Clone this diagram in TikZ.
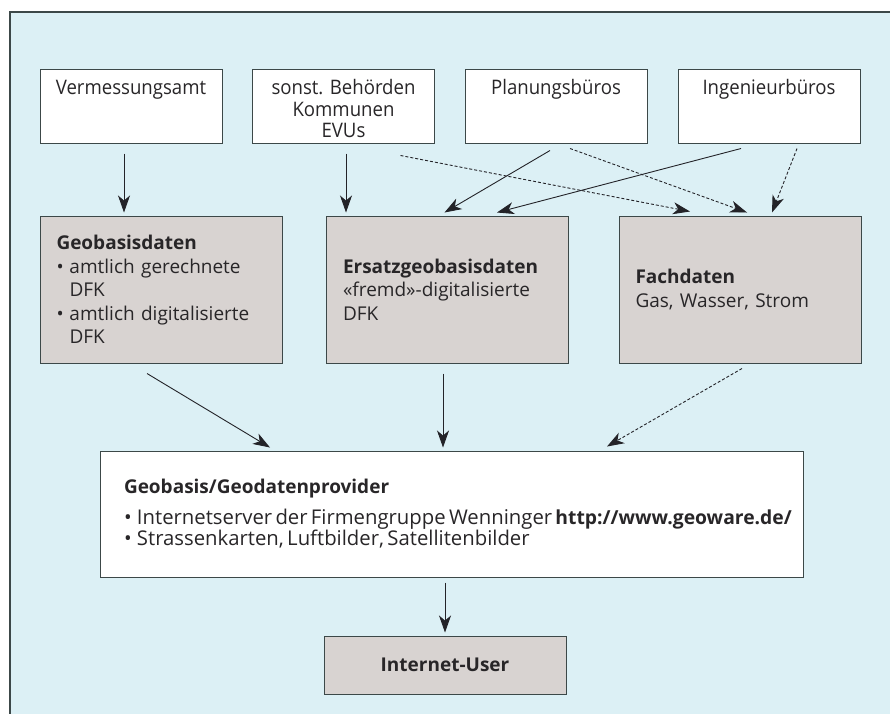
\documentclass[tikz,border=0pt]{standalone}
\usepackage{fontspec}
\setmainfont{Open Sans}
\newfontfamily\condfont[FakeStretch=0.93]{Open Sans}
\usetikzlibrary{arrows.meta,calc}
\definecolor{bgc}{RGB}{220,240,245}
\definecolor{grayc}{RGB}{216,211,209}
\definecolor{bordc}{RGB}{60,72,72}
\definecolor{txtc}{RGB}{40,38,40}
\definecolor{arrc}{RGB}{35,35,40}
\newcommand{\bul}{\makebox[13pt][l]{•}}
\newcommand{\bulind}{\hspace*{13pt}}
\newcommand{\topstrut}{\rule{0pt}{21pt}}
\begin{document}
\begin{tikzpicture}[x=1pt,y=-1pt,
  topbox/.style={draw=bordc, line width=1pt, fill=white, minimum width=182pt, minimum height=74pt,
    align=center, font=\condfont\fontsize{20}{21.5}\selectfont, text=txtc, inner sep=0pt},
  midbox/.style={draw=bordc, line width=1pt, fill=grayc, minimum height=147pt, text width=209pt,
    inner xsep=16.5pt, inner ysep=0pt, align=left, font=\fontsize{19}{23.5}\selectfont, text=txtc},
  provbox/.style={draw=bordc, line width=1pt, fill=white, minimum height=126pt, text width=655pt,
    inner xsep=24pt, inner ysep=0pt, align=left, text=txtc},
  userbox/.style={draw=bordc, line width=1pt, fill=grayc, minimum width=242pt, minimum height=58pt,
    inner sep=0pt, font=\bfseries\fontsize{19}{24}\selectfont, text=txtc},
  arr/.style={-{Stealth[length=17pt,width=12pt,inset=5pt]}, line width=0.9pt, draw=arrc},
  darr/.style={arr, dash pattern=on 3pt off 2pt}
]
\useasboundingbox (0,0) rectangle (890,713);
\fill[white] (0,0) rectangle (890,713);
\fill[bgc] (10,12) rectangle (895,720);
\draw[bordc, line width=1.2pt] (10,720) -- (10,12) -- (895,12);

% top row
\node[topbox] (v) at (131,106) {\topstrut Vermessungsamt\\\phantom{K}\\\phantom{EVUs}};
\node[topbox] (s) at (343.5,106) {\topstrut sonst. Behörden\\Kommunen\\EVUs};
\node[topbox] (p) at (556,106) {\topstrut Planungsbüros\\\phantom{K}\\\phantom{EVUs}};
\node[topbox] (i) at (769,106) {\topstrut Ingenieurbüros\\\phantom{K}\\\phantom{EVUs}};

% middle row
\node[midbox] (geo) at (161,289.5) {\textbf{Geobasisdaten}\\\bul amtlich gerechnete\\\bulind DFK\\\bul amtlich digitalisierte\\\bulind DFK};
\node[midbox] (ers) at (447.5,289.5) {\textbf{Ersatzgeobasisdaten}\\«fremd»-digitalisierte\\DFK};
\node[midbox] (fach) at (740,289.5) {\textbf{Fachdaten}\\Gas, Wasser, Strom};

% provider
\node[provbox] (prov) at (451.5,514) {{\bfseries\fontsize{19}{23}\selectfont Geobasis/Geodatenprovider}\\[8pt]
  {\fontsize{20.3}{22.5}\selectfont \bul Internetserver der Firmengruppe Wenninger {\bfseries\fontsize{19.3}{22.5}\selectfont http://www.geoware.de/}\\\bul Strassenkarten, Luftbilder, Satellitenbilder}};

% user
\node[userbox] (user) at (445,665) {Internet-User};

% arrows top -> middle
\draw[arr] ([shift={(-7,10)}]v.south) -- ([shift={(-37,-3)}]geo.north);
\draw[arr] ([shift={(2.5,10)}]s.south) -- ([shift={(-101.5,-3)}]ers.north);
\draw[darr] ([shift={(57,12)}]s.south) -- ([shift={(-50,-4)}]fach.north);
\draw[arr] ([shift={(-6,7)}]p.south) -- ([shift={(-3,-3)}]ers.north);
\draw[darr] ([shift={(14,5)}]p.south) -- ([shift={(7,-3)}]fach.north);
\draw[arr] ([shift={(-28,5)}]i.south) -- ([shift={(49.5,-3)}]ers.north);
\draw[darr] ([shift={(28,5)}]i.south) -- ([shift={(32,-3)}]fach.north);

% arrows middle -> provider
\draw[arr] ([shift={(-14,10)}]geo.south) -- ([shift={(-181.5,-3)}]prov.north);
\draw[arr] ([shift={(-4.5,10)}]ers.south) -- ([shift={(-8.5,-3)}]prov.north);
\draw[darr] ([shift={(2,5)}]fach.south) -- ([shift={(155.5,-4)}]prov.north);

% provider -> user
\draw[arr] ([shift={(-6.5,5)}]prov.south) -- ([shift={(0,-3)}]user.north);
\end{tikzpicture}
\end{document}
